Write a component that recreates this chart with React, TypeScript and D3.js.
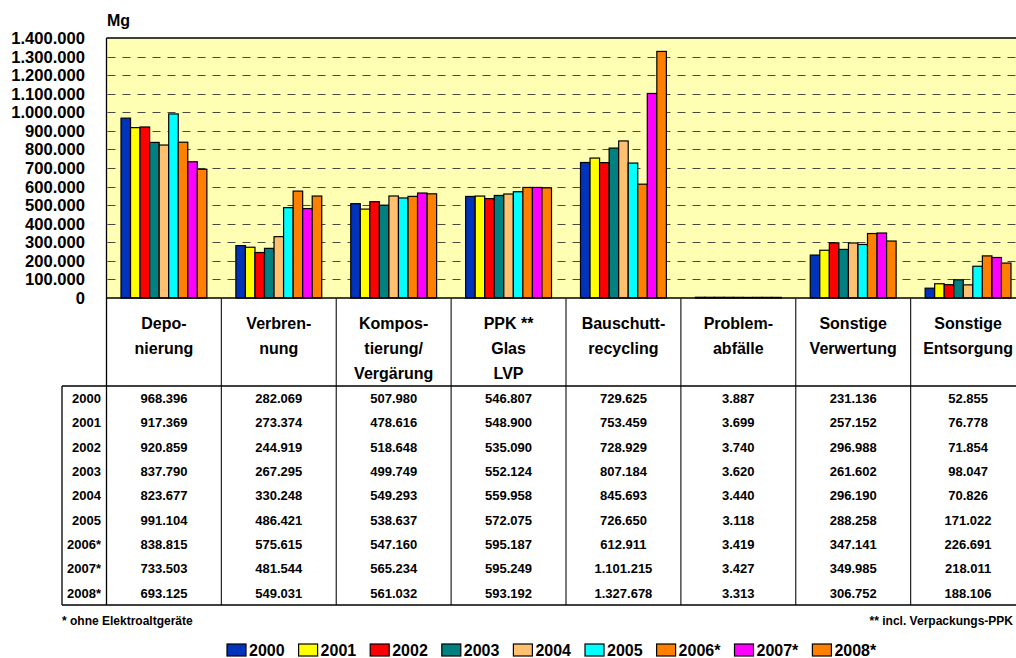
import React from "react";
import * as d3 from "d3";

const categories: string[][] = [
  ["Depo-", "nierung"],
  ["Verbren-", "nung"],
  ["Kompos-", "tierung/", "Vergärung"],
  ["PPK **", "Glas", "LVP"],
  ["Bauschutt-", "recycling"],
  ["Problem-", "abfälle"],
  ["Sonstige", "Verwertung"],
  ["Sonstige", "Entsorgung"],
];
const years = ["2000", "2001", "2002", "2003", "2004", "2005", "2006*", "2007*", "2008*"];
const colors = ["#0033BB", "#FFFF00", "#FF0000", "#008080", "#FFC070", "#00FFFF", "#FF8000", "#FF00FF", "#FF8000"];

// values per year (rows), per category (columns)
const v2000 = [968396, 282069, 507980, 546807, 729625, 3887, 231136, 52855];
const v2001 = [917369, 273374, 478616, 548900, 753459, 3699, 257152, 76778];
const v2002 = [920859, 244919, 518648, 535090, 728929, 3740, 296988, 71854];
const v2003 = [837790, 267295, 499749, 552124, 807184, 3620, 261602, 98047];
const v2004 = [823677, 330248, 549293, 559958, 845693, 3440, 296190, 70826];
const v2005 = [991104, 486421, 538637, 572075, 726650, 3118, 288258, 171022];
const v2006 = [838815, 575615, 547160, 595187, 612911, 3419, 347141, 226691];
const v2007 = [733503, 481544, 565234, 595249, 1101215, 3427, 349985, 218011];
const v2008 = [693125, 549031, 561032, 593192, 1327678, 3313, 306752, 188106];
const values = [v2000, v2001, v2002, v2003, v2004, v2005, v2006, v2007, v2008];

const yTicks = [0, 100000, 200000, 300000, 400000, 500000, 600000, 700000, 800000, 900000, 1000000, 1100000, 1200000, 1300000, 1400000];

const fmt = (n: number) => {
  const s = Math.round(n).toString();
  return s.replace(/\B(?=(\d{3})+(?!\d))/g, ".");
};

const FONT = "'Liberation Sans', Arial, Helvetica, sans-serif";

export default function App() {
  const W = 1016, H = 658;
  const plotLeft = 106.5, plotRight = 1025.5, plotTop = 38, plotBottom = 298;
  const headerBottom = 386, tableBottom = 605, tableLeft = 62;

  const catIdx = categories.map((_, i) => i);
  const x = d3.scaleBand<number>().domain(catIdx).range([plotLeft, plotRight]).paddingInner(0).paddingOuter(0);
  const bw = x.bandwidth();
  const inner = d3.scaleBand<number>().domain(years.map((_, i) => i)).range([14.5, bw - 14.5]).padding(0);
  const y = d3.scaleLinear().domain([0, 1400000]).range([plotBottom, plotTop]);
  const rowH = (tableBottom - headerBottom) / years.length;

  // legend positions
  const legendX: number[] = [];
  let lx = 227;
  years.forEach((yr) => {
    legendX.push(lx);
    const tw = yr.length * 8.9 + (yr.includes("*") ? -2.6 : 0);
    lx += 23 + tw + 13;
  });

  return (
    <svg width={W} height={H} style={{ position: "absolute", left: 0, top: 0, fontFamily: FONT }}>
      <rect x={0} y={0} width={W} height={H} fill="#fff" />
      {/* plot background */}
      <rect x={plotLeft} y={plotTop} width={plotRight - plotLeft} height={plotBottom - plotTop} fill="#FFFFB4" />
      {/* gridlines */}
      {yTicks.filter((t) => t > 0 && t < 1400000).map((t) => (
        <line key={t} x1={plotLeft} x2={plotRight} y1={Math.round(y(t)) + 0.5} y2={Math.round(y(t)) + 0.5}
          stroke="#4a4a40" strokeWidth={1} strokeDasharray="8,7" strokeDashoffset={-1} />
      ))}
      {/* bars */}
      {values.map((row, yi) => row.map((v, ci) => {
        const bx = (x(ci) as number) + (inner(yi) as number);
        const by = y(v);
        return (
          <rect key={`${yi}-${ci}`} x={bx} y={by} width={inner.bandwidth()} height={Math.max(0, plotBottom - by)}
            fill={colors[yi]} stroke="#000" strokeWidth={1.2} />
        );
      }))}
      {/* plot border */}
      <line x1={plotLeft} x2={plotRight} y1={plotTop} y2={plotTop} stroke="#000" strokeWidth={1.3} />
      <line x1={plotLeft} x2={plotLeft} y1={plotTop} y2={tableBottom} stroke="#000" strokeWidth={1.3} />
      <line x1={plotLeft} x2={plotRight} y1={plotBottom} y2={plotBottom} stroke="#000" strokeWidth={1.3} />
      {/* y tick labels */}
      {yTicks.map((t) => (
        <text key={t} x={85} y={y(t)} dy="0.36em" textAnchor="end" fontSize={16.6} fontWeight="bold" fill="#000">
          {fmt(t)}
        </text>
      ))}
      <text x={107} y={26} fontSize={16} fontWeight="bold">Mg</text>
      {/* category separators and labels */}
      {catIdx.slice(1).map((ci) => (
        <line key={ci} x1={x(ci)} x2={x(ci)} y1={plotBottom} y2={tableBottom} stroke="#222" strokeWidth={1.2} />
      ))}
      {categories.map((lines, ci) => (
        <text key={ci} x={(x(ci) as number) + bw / 2} textAnchor="middle" fontSize={16} fontWeight="bold">
          {lines.map((ln, li) => (
            <tspan key={li} x={(x(ci) as number) + bw / 2} y={329 + li * 25}>{ln}</tspan>
          ))}
        </text>
      ))}
      {/* table */}
      <line x1={tableLeft} x2={plotRight} y1={headerBottom} y2={headerBottom} stroke="#000" strokeWidth={1.3} />
      <line x1={tableLeft} x2={plotRight} y1={tableBottom} y2={tableBottom} stroke="#000" strokeWidth={1.3} />
      <line x1={tableLeft} x2={tableLeft} y1={headerBottom} y2={tableBottom} stroke="#000" strokeWidth={1.3} />
      {years.map((yr, yi) => (
        <g key={yr}>
          <text x={101} y={headerBottom + rowH * (yi + 0.5)} dy="0.36em" textAnchor="end" fontSize={13} fontWeight="bold">{yr}</text>
          {values[yi].map((v, ci) => (
            <text key={ci} x={(x(ci) as number) + bw / 2} y={headerBottom + rowH * (yi + 0.5)} dy="0.36em"
              textAnchor="middle" fontSize={13} fontWeight="bold">{fmt(v)}</text>
          ))}
        </g>
      ))}
      {/* footnotes */}
      <text x={62} y={625} fontSize={12} fontWeight="bold">* ohne Elektroaltgeräte</text>
      <text x={1013} y={625} textAnchor="end" fontSize={12} fontWeight="bold">** incl. Verpackungs-PPK</text>
      {/* legend */}
      {years.map((yr, yi) => (
        <g key={yr}>
          <rect x={legendX[yi]} y={644} width={19} height={12} fill={colors[yi]} stroke="#000" strokeWidth={1.2} />
          <text x={legendX[yi] + 22} y={656} fontSize={16} fontWeight="bold">{yr}</text>
        </g>
      ))}
    </svg>
  );
}
